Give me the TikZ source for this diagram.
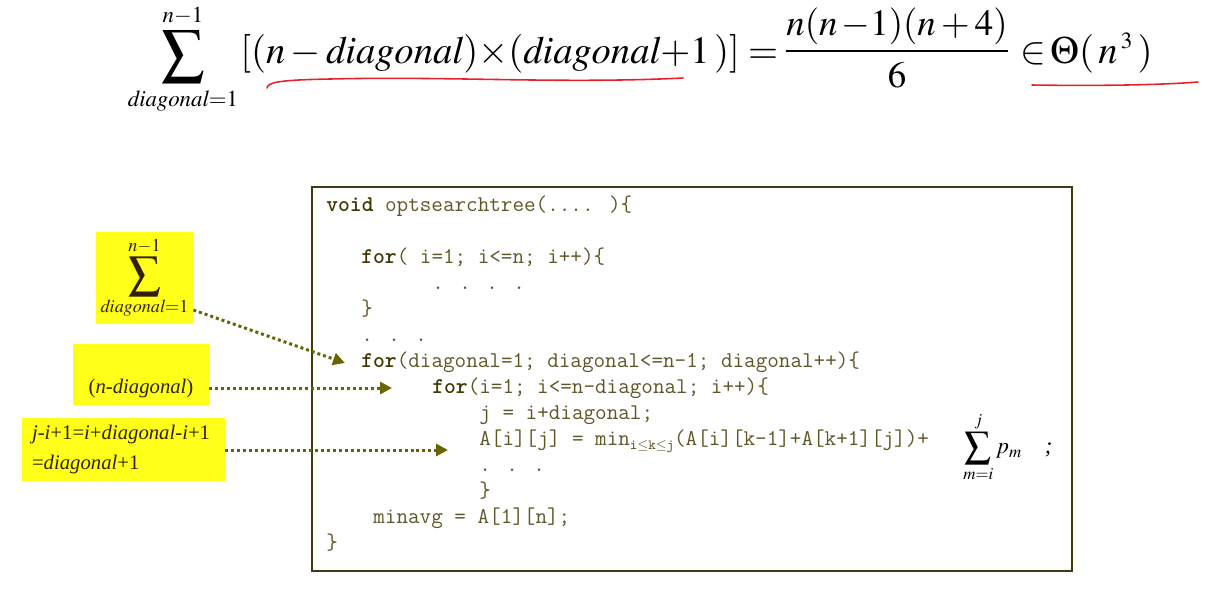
\documentclass[tikz,border=0pt]{standalone}
\usepackage{mathptmx}
\usepackage{fontspec}
\setmainfont{Liberation Serif}
\usetikzlibrary{arrows.meta,positioning}
\definecolor{codeInk}{HTML}{5E5628}
\definecolor{codeKey}{HTML}{3F3700}
\definecolor{codeFrame}{HTML}{3F3A10}
\definecolor{hintOlive}{HTML}{666600}
\definecolor{noteYellow}{HTML}{FFFF1A}
\definecolor{noteInk}{HTML}{33200A}
\definecolor{markRed}{HTML}{E8202A}
\newcommand{\kw}[1]{\textbf{\textcolor{codeKey}{#1}}}
\newcommand{\bigsum}[1]{\mathop{\vcenter{\hbox{\scalebox{#1}{$\displaystyle\sum$}}}}\limits}
\tikzset{
  every picture/.style={font=\rmfamily},
  code line/.style={anchor=base west, inner sep=0pt, text=codeInk,
    font=\ttfamily\fontsize{12.8}{14}\selectfont},
  code frame/.style={draw=codeFrame, line width=1.1pt},
  note box/.style={fill=noteYellow, text=noteInk, inner sep=0pt,
    font=\fontsize{11.8}{17}\selectfont},
  hint arrow/.style={-{Triangle[length=0.24cm,width=0.24cm]}, draw=hintOlive,
    line width=1.7pt, dash pattern=on 1.7pt off 1.7pt},
  top math/.style={inner sep=0pt, font=\fontsize{22}{26}\selectfont},
  red mark/.style={draw=markRed, line width=0.9pt, line cap=round}
}

\begin{document}
\begin{tikzpicture}[x=0.02cm,y=-0.02cm]
  \useasboundingbox (0,0) rectangle (1222,610);
  % formula on top
  \node[top math] (topSum) at (183,59)
    {$\bigsum{1.1}_{\hbox{\fontsize{13}{14}\selectfont$\mathit{diagonal}{=}1$}}^{\hbox{\fontsize{13}{14}\selectfont$n{-}1$}}$};
  \node[top math, anchor=base west] (topBracket) at (240,63)
    {$[(n-\mathit{diagonal}){\times}(\mathit{diagonal}{+}1\,)]=$};
  \node[top math, anchor=base, font=\fontsize{21}{25}\selectfont] (topFrac) at (897,60)
    {$\displaystyle\frac{n(n\,{-}1)(n+4)}{\rule{0pt}{0.85em}6}$};
  \node[top math, anchor=base west] (topTheta) at (1020,63)
    {$\in\!\Theta(\,n^{\,\scriptscriptstyle 3}\,)$};
  \draw[red mark] (267,88) .. controls (268,82) and (280,80) .. (330,79)
    .. controls (450,76) and (560,84) .. (683,78);
  \draw[red mark] (1032,85) .. controls (1100,86) and (1160,85) .. (1198,82);
  % code box
  \draw[code frame] (312,187) rectangle (1072,571);
  \node[code line] (lnVoid) at (326,211) {\kw{void} optsearchtree(.... )\{};
  \node[code line] (lnForI) at (361,263) {\kw{for}( i=1; i<=n; i++)\{};
  \node[code line] (lnDots) at (432,289) {. . . .};
  \node[code line] (lnClose) at (361,315) {\}};
  \node[code line] (lnEllip) at (361,341) {. . .};
  \node[code line] (lnForDiag) at (361,367) {\kw{for}(diagonal=1; diagonal<=n-1; diagonal++)\{};
  \node[code line] (lnForInner) at (432,393) {\kw{for}(i=1; i<=n-diagonal; i++)\{};
  \node[code line] (lnJ) at (479,419) {j = i+diagonal;};
  \node[code line] (lnA) at (479,445)
    {A[i][j] = min\raisebox{-0.45ex}{\fontsize{8}{8}\selectfont i$\le$k$\le$j}(A[i][k-1]+A[k+1][j])+};
  \node[code line] (lnDots2) at (479,471) {. . .};
  \node[code line] (lnInnerClose) at (479,497) {\}};
  \node[code line] (lnMinavg) at (373,523) {minavg = A[1][n];};
  \node[code line] (lnEnd) at (326,549) {\}};
  \node[inner sep=0pt, anchor=west, font=\fontsize{13}{15}\selectfont] (pmSum) at (963,447)
    {$\bigsum{1.15}_{m=i}^{j}p_m$\quad\textit{;}};
  % notes on the left
  \node[note box, minimum width=1.94cm, minimum height=1.84cm,
    font=\fontsize{14}{16}\selectfont] (sumBox) at (144.5,278)
    {$\bigsum{1.3}_{\mathit{diagonal}=1}^{n-1}$};
  \node[note box, minimum width=2.72cm, text height=0.98cm, text depth=0.24cm] (nBox) at (141,374.5)
    {(\textit{n-diagonal})};
  \node[note box, minimum width=4.06cm, minimum height=1.26cm, align=left,
    text width=3.66cm, inner xsep=0.2cm] (jBox) at (123.5,449.5)
    {\textit{j}-\textit{i}+1=\textit{i}+\textit{diagonal}-\textit{i}+1\\=\textit{diagonal}+1};
  \coordinate (tipDiag) at (345,363);
  \coordinate (tipInner) at (392,388);
  \coordinate (tipA) at (448,450);
  \draw[hint arrow] ([yshift=-0.64cm]sumBox.east) -- (tipDiag);
  \draw[hint arrow] (nBox.east |- tipInner) -- (tipInner);
  \draw[hint arrow] (jBox.east |- tipA) -- (tipA);
\end{tikzpicture}
\end{document}
